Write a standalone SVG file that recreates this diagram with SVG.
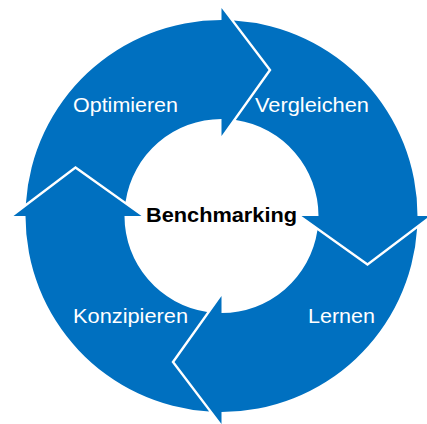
<svg xmlns="http://www.w3.org/2000/svg" xmlns:xlink="http://www.w3.org/1999/xlink" width="427" height="424" viewBox="0 0 427 424">
  <style>
    .seg { fill: #0070C0; }
    .lbl { font-family: "Liberation Sans", Arial, sans-serif; font-size: 20px; fill: #ffffff; }
    .hub { font-family: "Liberation Sans", Arial, sans-serif; font-size: 20px; font-weight: bold; fill: #000000; }
  </style>
  <defs>
    <!-- One quarter of the ring (centred on 0,0): notched tail on the left, arrowhead at the top pointing clockwise -->
    <path id="segment" class="seg"
          d="M -195.61 -12.39 A 196 196 0 0 1 0 -196 L 0 -208 L 47 -146 L 0 -80 L 0 -97 A 97 97 0 0 0 -95.93 -14.35 L -146 -50 Z"/>
  </defs>

  <rect width="427" height="424" fill="#ffffff"/>

  <g transform="translate(221.5 216)">
    <g id="optimieren-shape"><use xlink:href="#segment"/></g>
    <g id="vergleichen-shape"><use xlink:href="#segment" transform="rotate(90)"/></g>
    <g id="lernen-shape"><use xlink:href="#segment" transform="rotate(180)"/></g>
    <g id="konzipieren-shape"><use xlink:href="#segment" transform="rotate(270)"/></g>
  </g>

  <g id="optimieren"><text class="lbl" x="73" y="112" textLength="105" lengthAdjust="spacingAndGlyphs">Optimieren</text></g>
  <g id="vergleichen"><text class="lbl" x="255" y="112" textLength="114" lengthAdjust="spacingAndGlyphs">Vergleichen</text></g>
  <g id="lernen"><text class="lbl" x="308" y="323" textLength="67" lengthAdjust="spacingAndGlyphs">Lernen</text></g>
  <g id="konzipieren"><text class="lbl" x="73" y="323" textLength="115" lengthAdjust="spacingAndGlyphs">Konzipieren</text></g>
  <g id="benchmarking"><text class="hub" x="146" y="222" textLength="151" lengthAdjust="spacingAndGlyphs">Benchmarking</text></g>
</svg>
